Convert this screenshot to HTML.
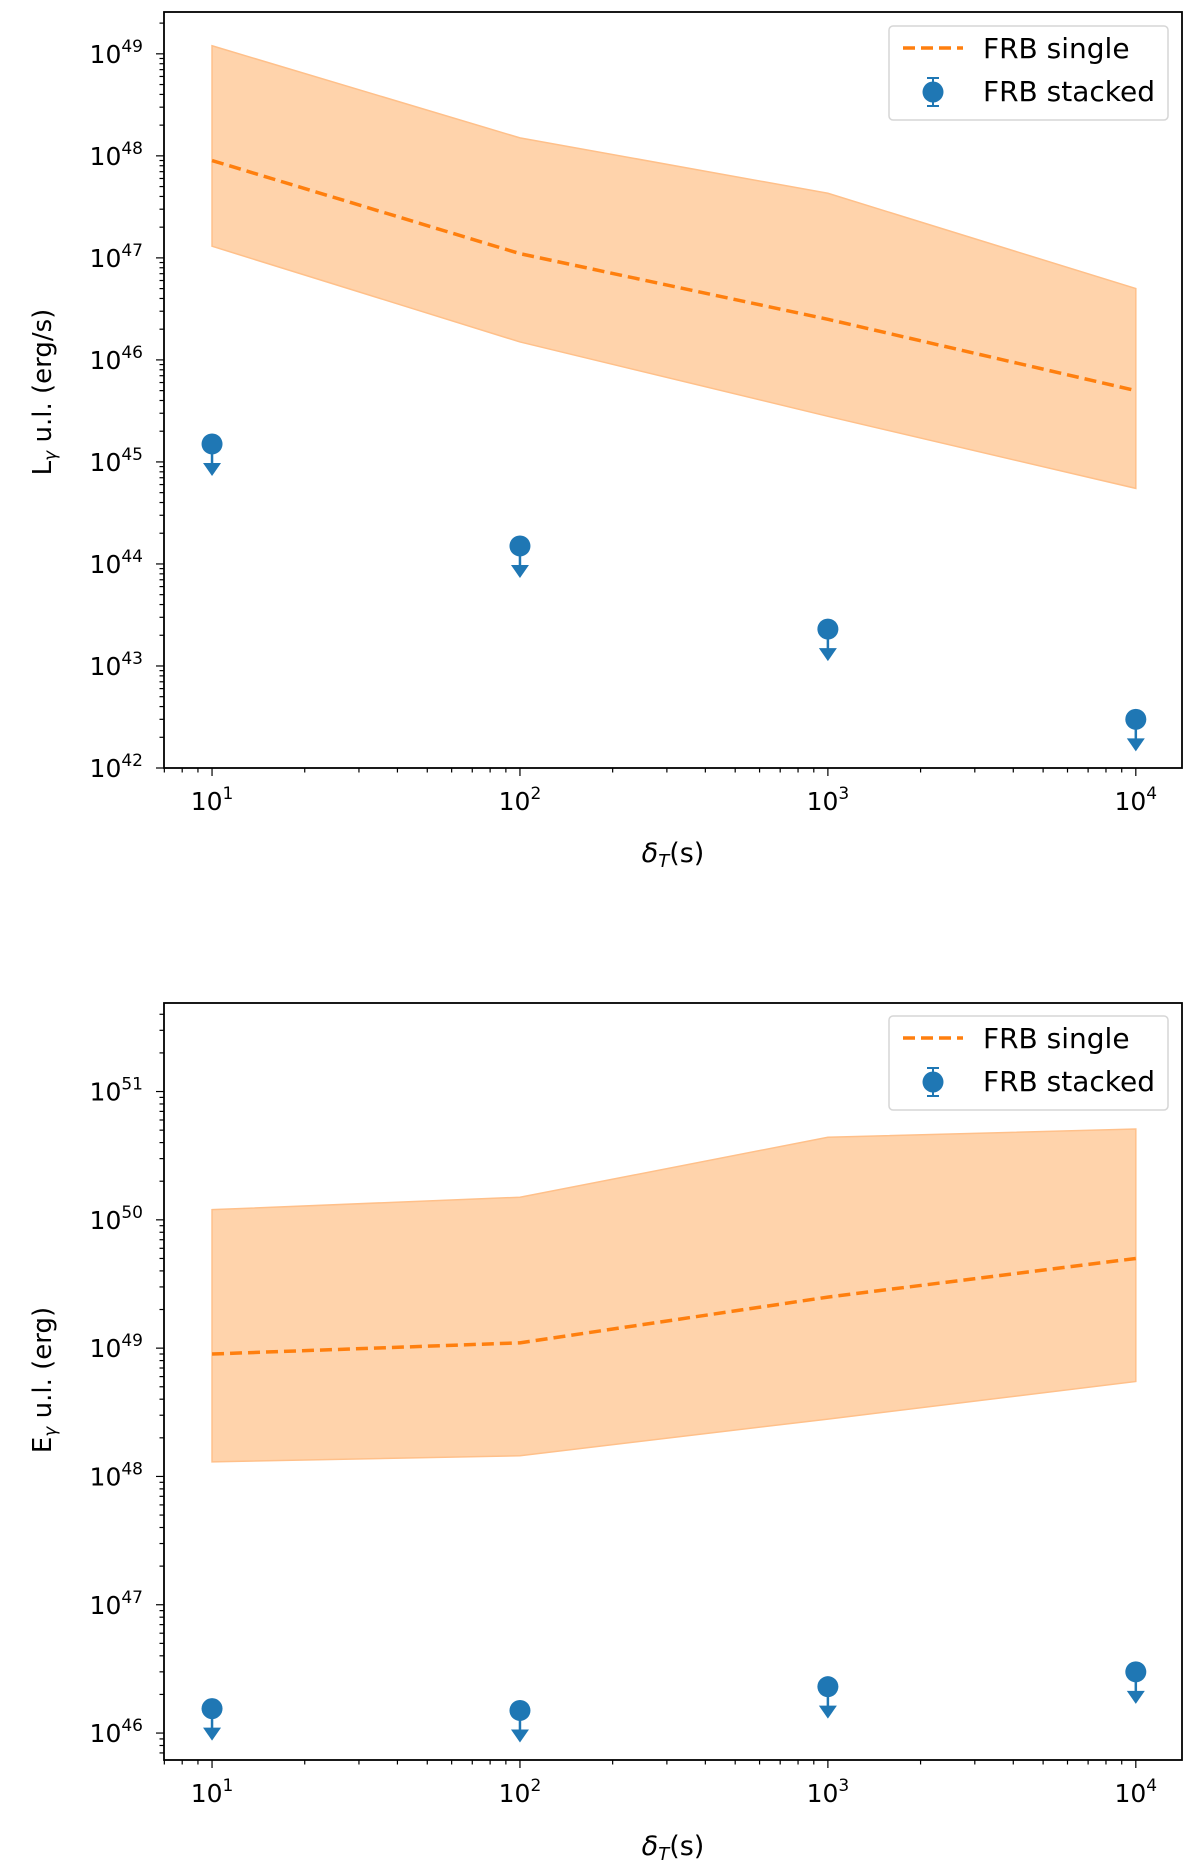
<!DOCTYPE html>
<html><head><meta charset="utf-8"><style>
html,body{margin:0;padding:0;background:#fff;}
svg{display:block;font-family:"DejaVu Sans","Liberation Sans",sans-serif;}
</style></head><body>
<svg id="fig" width="1200" height="1867" viewBox="0 0 1200 1867"></svg>
<script>
const times = [10, 100, 1000, 10000];
const lumSingle = [9e47, 1.1e47, 2.5e46, 5e45];
const lumUpper = [1.2e49, 1.5e48, 4.3e47, 5e46];
const lumLower = [1.3e47, 1.5e46, 2.8e45, 5.5e44];
const lumStacked = [1.5e45, 1.5e44, 2.3e43, 3e42];
const enSingle = [9e48, 1.1e49, 2.5e49, 5e49];
const enUpper = [1.2e50, 1.5e50, 4.4e50, 5.1e50];
const enLower = [1.3e48, 1.45e48, 2.8e48, 5.5e48];
const enStacked = [1.55e46, 1.5e46, 2.3e46, 3e46];
const xTickExps = [1, 2, 3, 4];
const lumTickExps = [42, 43, 44, 45, 46, 47, 48, 49];
const enTickExps = [46, 47, 48, 49, 50, 51];

const NS = "http://www.w3.org/2000/svg";
const svg = document.getElementById('fig');
function mk(tag, attrs, parent) {
  const e = document.createElementNS(NS, tag);
  for (const k in attrs) e.setAttribute(k, attrs[k]);
  (parent || svg).appendChild(e);
  return e;
}

function panel(cfg) {
  const g = mk('g', {});
  
  
  const L = 164, R = 1182, T = cfg.top, B = cfg.bottom;
  const xmin = 0.844, xmax = 4.15;
  const X = v => L + (Math.log10(v) - xmin) / (xmax - xmin) * (R - L);
  const Y = v => B - (Math.log10(v) - cfg.ymin) / (cfg.ymax - cfg.ymin) * (B - T);

  let d = '';
  times.forEach((t, i) => { d += (i ? 'L' : 'M') + X(t) + ' ' + Y(cfg.upper[i]); });
  for (let i = times.length - 1; i >= 0; i--) d += 'L' + X(times[i]) + ' ' + Y(cfg.lower[i]);
  d += 'Z';
  const band = mk('path', {d: d, fill: '#ffd3ab', stroke: '#ffc08a', 'stroke-width': 1.5}, g);
  
  

  const pts = times.map((t, i) => X(t) + ',' + Y(cfg.single[i])).join(' ');
  const line = mk('polyline', {points: pts, fill: 'none', stroke: '#ff7f0e', 'stroke-width': 3.5, 'stroke-dasharray': '12,6'}, g);
  
  

  times.forEach((t, i) => {
    const cx = X(t), cy = Y(cfg.stacked[i]);
    const pg = mk('g', {}, g);
    
    
    mk('line', {x1: cx, y1: cy, x2: cx, y2: cy + 22, stroke: '#1f77b4', 'stroke-width': 2.5}, pg);
    mk('path', {d: `M${cx-9} ${cy+19}L${cx+9} ${cy+19}L${cx} ${cy+32}Z`, fill: '#1f77b4'}, pg);
    mk('circle', {cx: cx, cy: cy, r: 10.5, fill: '#1f77b4'}, pg);
  });

  const fr = mk('rect', {x: L, y: T, width: R - L, height: B - T, fill: 'none', stroke: '#000', 'stroke-width': 1.8}, g);
  
  

  for (let e = 0; e <= 4; e++) for (let m = 1; m <= 9; m++) {
    const v = m * Math.pow(10, e), lv = Math.log10(v);
    if (lv < xmin || lv > xmax) continue;
    const len = m === 1 ? 8 : 4.5;
    mk('line', {x1: X(v), x2: X(v), y1: B, y2: B + len, stroke: '#000', 'stroke-width': 1.2}, g);
  }
  xTickExps.forEach(e => {
    const tx = mk('text', {x: X(Math.pow(10, e)), y: B + 42, 'text-anchor': 'middle', 'font-size': 25}, g);
    
    
    tx.innerHTML = '10<tspan dy="-11" font-size="17">' + e + '</tspan>';
  });
  for (let e = Math.floor(cfg.ymin); e <= Math.ceil(cfg.ymax); e++) for (let m = 1; m <= 9; m++) {
    const lv = e + Math.log10(m);
    if (lv < cfg.ymin || lv > cfg.ymax) continue;
    const len = m === 1 ? 8 : 4.5;
    const yy = B - (lv - cfg.ymin) / (cfg.ymax - cfg.ymin) * (B - T);
    mk('line', {x1: L - len, x2: L, y1: yy, y2: yy, stroke: '#000', 'stroke-width': 1.2}, g);
  }
  cfg.ticks.forEach(e => {
    const yy = B - (e - cfg.ymin) / (cfg.ymax - cfg.ymin) * (B - T);
    const tx = mk('text', {x: 143, y: yy + 9, 'text-anchor': 'end', 'font-size': 25}, g);
    
    
    tx.innerHTML = '10<tspan dy="-11" font-size="17">' + e + '</tspan>';
  });

  const xl = mk('text', {x: (L + R) / 2, y: cfg.xlabelY, 'text-anchor': 'middle', 'font-size': 27}, g);
  
  
  xl.innerHTML = '<tspan font-style="italic">δ</tspan><tspan font-style="italic" font-size="18" dy="5">T</tspan><tspan dy="-5">(s)</tspan>';
  const yl = mk('text', {x: 0, y: 0, 'text-anchor': 'middle', 'font-size': 26, transform: `translate(51,${cfg.ylabelY}) rotate(-90)`}, g);
  
  
  yl.innerHTML = cfg.ylabelMain + '<tspan font-style="italic" font-size="17" dy="5">γ</tspan><tspan dy="-5">  u.l. ' + cfg.ylabelUnit + '</tspan>';

  const ly = cfg.legendTop;
  const lg = mk('g', {}, g);
  
  
  mk('rect', {x: 889, y: ly, width: 279, height: 94, rx: 4, fill: '#fff', 'fill-opacity': 0.85, stroke: '#d6d6d6', 'stroke-width': 1.5}, lg);
  const e1 = mk('g', {}, lg);
  
  
  mk('line', {x1: 903, x2: 963, y1: ly + 22, y2: ly + 22, stroke: '#ff7f0e', 'stroke-width': 3.5, 'stroke-dasharray': '12,6'}, e1);
  const t1 = mk('text', {x: 983, y: ly + 32, 'font-size': 28}, e1); t1.textContent = 'FRB single';
  const e2 = mk('g', {}, lg);
  
  
  mk('line', {x1: 933, x2: 933, y1: ly + 52, y2: ly + 80, stroke: '#1f77b4', 'stroke-width': 2}, e2);
  mk('line', {x1: 927, x2: 939, y1: ly + 52, y2: ly + 52, stroke: '#1f77b4', 'stroke-width': 2}, e2);
  mk('line', {x1: 927, x2: 939, y1: ly + 80, y2: ly + 80, stroke: '#1f77b4', 'stroke-width': 2}, e2);
  mk('circle', {cx: 933, cy: ly + 66, r: 10.5, fill: '#1f77b4'}, e2);
  const t2 = mk('text', {x: 983, y: ly + 75, 'font-size': 28}, e2); t2.textContent = 'FRB stacked';
}

panel({name: 'luminosity-panel', top: 12, bottom: 768, ymin: 42, ymax: 49.41,
  upper: lumUpper, lower: lumLower, single: lumSingle, stacked: lumStacked, ticks: lumTickExps,
  xlabelY: 862, ylabelY: 392, ylabelMain: 'L', ylabelUnit: '(erg/s)', legendTop: 26});
panel({name: 'energy-panel', top: 1003, bottom: 1760, ymin: 45.79, ymax: 51.69,
  upper: enUpper, lower: enLower, single: enSingle, stacked: enStacked, ticks: enTickExps,
  xlabelY: 1855, ylabelY: 1380, ylabelMain: 'E', ylabelUnit: '(erg)', legendTop: 1016});
</script>
</body></html>
